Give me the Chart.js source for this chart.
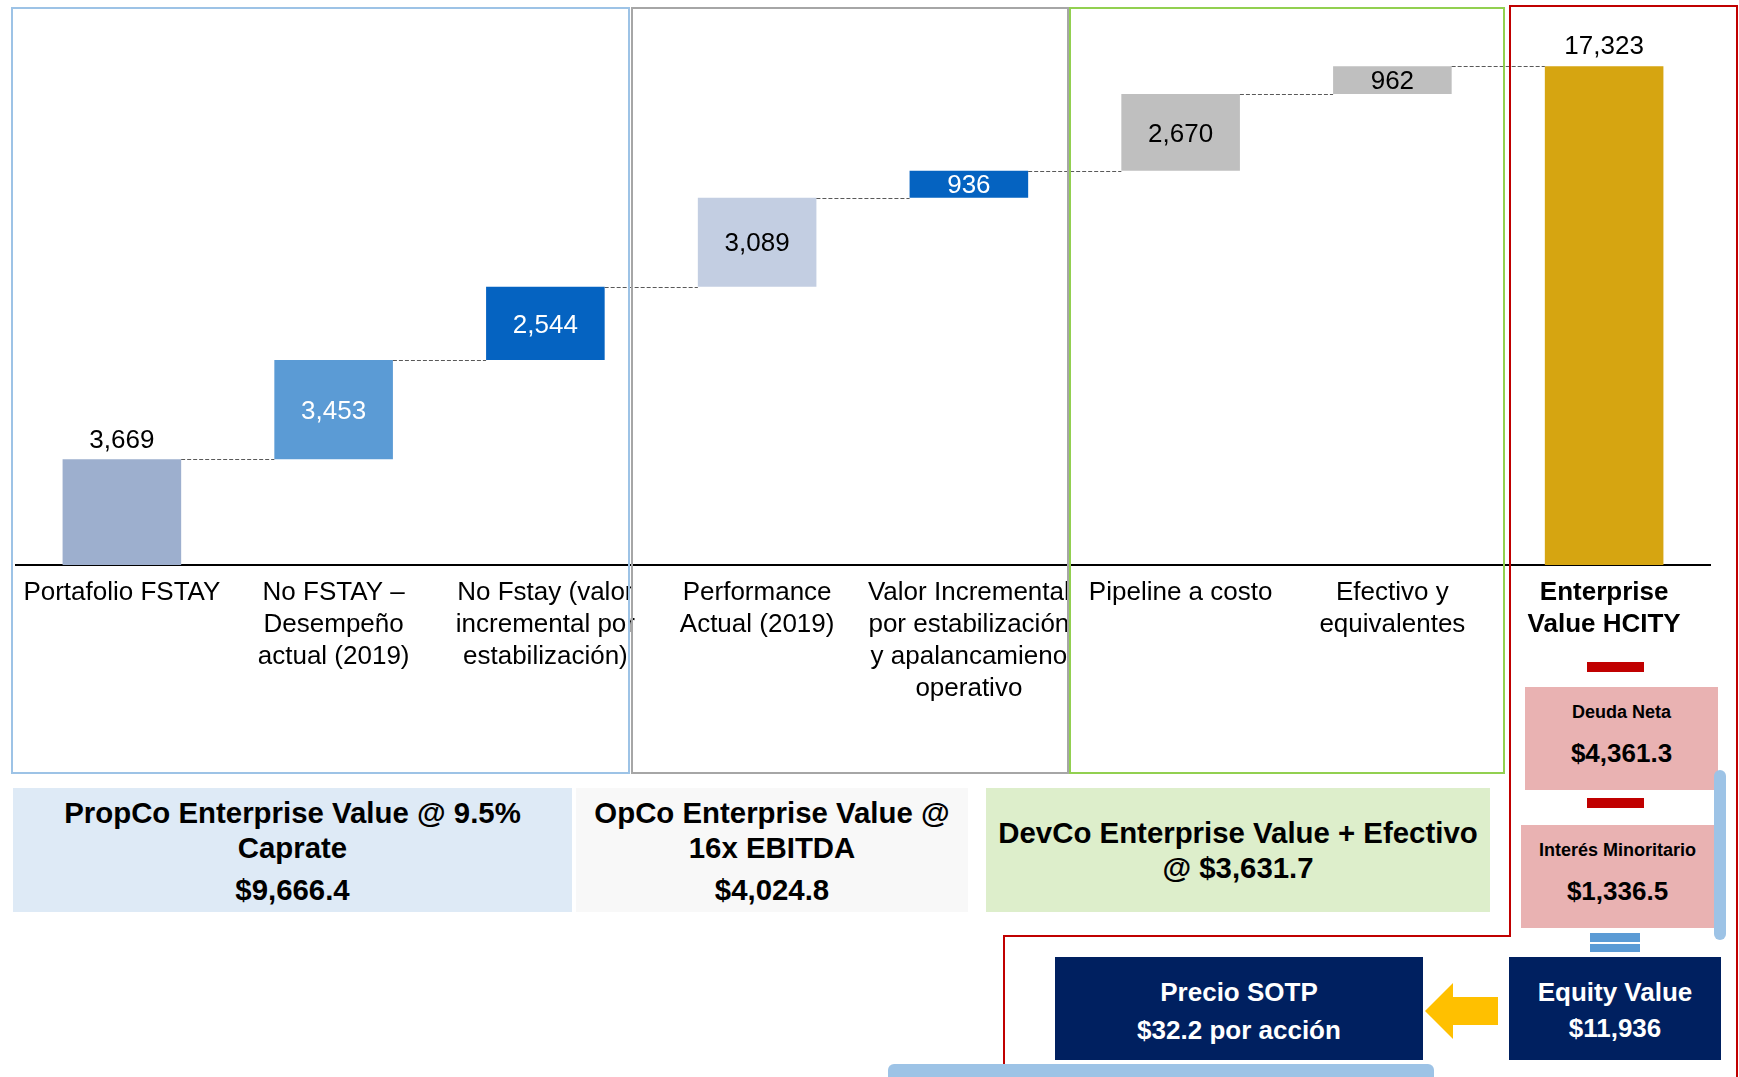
<!DOCTYPE html>
<html lang="es">
<head>
<meta charset="utf-8">
<title>SOTP HCITY</title>
<script src="https://cdn.jsdelivr.net/npm/chart.js@4.4.0/dist/chart.umd.min.js"></script>
<style>
  html, body { margin: 0; padding: 0; background: #fff; }
  body { width: 1739px; height: 1077px; overflow: hidden; position: relative;
         font-family: 'Liberation Sans', Arial, sans-serif; }
  #sotpChart { position: absolute; left: 0; top: 0; }
  #frames { position: absolute; left: 0; top: 0; }
  .panel { position: absolute; box-sizing: border-box; text-align: center;
           font-weight: bold; color: #000; }
  .big { font-size: 29.4px; line-height: 35px; padding-top: 7px; }
  .pink { background: #E9B2B2; font-size: 18px; line-height: 24px; padding-top: 13px; }
  .pink .num { font-size: 26px; line-height: 32px; margin-top: 13px; }
  .navy { background: #002060; color: #fff; font-size: 26px; line-height: 36px; padding-top: 17px; }
</style>
</head>
<body>
<canvas id="sotpChart" width="1739" height="1077"></canvas>

<div class="panel big" style="left:13px;top:788px;width:559px;height:124px;background:#DEEAF6;">
  <div>PropCo Enterprise Value @ 9.5%</div>
  <div>Caprate</div>
  <div style="margin-top:7px;">$9,666.4</div>
</div>
<div class="panel big" style="left:576px;top:788px;width:392px;height:124px;background:#F8F8F8;">
  <div>OpCo Enterprise Value @</div>
  <div>16x EBITDA</div>
  <div style="margin-top:7px;">$4,024.8</div>
</div>
<div class="panel big" style="left:986px;top:788px;width:504px;height:124px;background:#DDEECB;padding-top:27px;">
  <div>DevCo Enterprise Value + Efectivo</div>
  <div>@ $3,631.7</div>
</div>

<div class="panel pink" style="left:1525px;top:687px;width:193px;height:103px;">
  <div>Deuda Neta</div>
  <div class="num">$4,361.3</div>
</div>
<div class="panel pink" style="left:1521px;top:825px;width:193px;height:103px;">
  <div>Interés Minoritario</div>
  <div class="num">$1,336.5</div>
</div>
<div class="panel navy" style="left:1509px;top:957px;width:212px;height:103px;">
  <div>Equity Value</div>
  <div>$11,936</div>
</div>
<div class="panel navy" style="left:1055px;top:957px;width:368px;height:103px;line-height:38px;padding-top:16px;">
  <div>Precio SOTP</div>
  <div>$32.2 por acción</div>
</div>

<svg id="frames" width="1739" height="1077">
  <rect x="12" y="8" width="617" height="765" fill="none" stroke="#9DC3E6" stroke-width="2"/>
  <rect x="632" y="8" width="436" height="765" fill="none" stroke="#A6A6A6" stroke-width="2"/>
  <rect x="1070" y="8" width="434" height="765" fill="none" stroke="#92D050" stroke-width="2"/>
  <polyline points="1004,1080 1004,936 1510,936 1510,6 1737,6 1737,1080" fill="none" stroke="#C00000" stroke-width="2"/>
  <rect x="1587" y="662" width="57" height="10" fill="#C00000"/>
  <rect x="1587" y="798" width="57" height="10" fill="#C00000"/>
  <rect x="1714" y="770" width="12" height="170" rx="6" fill="#9DC3E6"/>
  <rect x="1590" y="933" width="50" height="9" fill="#5B9BD5"/>
  <rect x="1590" y="944" width="50" height="8" fill="#5B9BD5"/>
  <polygon points="1425,1011 1453,983 1453,997 1498,997 1498,1025 1453,1025 1453,1039" fill="#FFC000"/>
  <rect x="888" y="1064" width="546" height="24" rx="6" fill="#9DC3E6"/>
</svg>

<script>
// categorias del puente de valor (SOTP)
const categories = [
  'Portafolio FSTAY',
  ['No FSTAY –', 'Desempeño', 'actual (2019)'],
  ['No Fstay (valor', 'incremental por', 'estabilización)'],
  ['Performance', 'Actual (2019)'],
  ['Valor Incremental', 'por estabilización', 'y apalancamieno', 'operativo'],
  'Pipeline a costo',
  ['Efectivo y', 'equivalentes'],
  ['Enterprise', 'Value HCITY']
];
// incrementos (mdp) y total
const steps = [3669, 3453, 2544, 3089, 936, 2670, 962];
const total = 17323;

const barColors = ['#9DAFCE', '#5B9BD5', '#0563C1', '#C3CEE2', '#0563C1', '#BFBFBF', '#BFBFBF', '#D6A511'];
const labelColors = ['#000', '#fff', '#fff', '#000', '#fff', '#000', '#000', '#000'];
const labelPlace = ['above', 'inside', 'inside', 'inside', 'inside', 'inside', 'inside', 'above'];

// barras flotantes: cada paso arranca donde termina el anterior
let running = 0;
const ranges = steps.map(function (v) {
  const r = [running, running + v];
  running += v;
  return r;
});
ranges.push([0, total]);
const values = steps.concat([total]);

const fmt = new Intl.NumberFormat('en-US');

const waterfallExtras = {
  id: 'waterfallExtras',
  afterDatasetsDraw(chart) {
    const ctx = chart.ctx;
    const y = chart.scales.y;
    const bars = chart.getDatasetMeta(0).data;
    ctx.save();

    // lineas punteadas entre barras
    ctx.strokeStyle = '#595959';
    ctx.lineWidth = 1;
    ctx.setLineDash([4, 2]);
    for (let i = 0; i < bars.length - 1; i++) {
      const lvl = Math.round(y.getPixelForValue(ranges[i][1])) + 0.5;
      ctx.beginPath();
      ctx.moveTo(bars[i].x + bars[i].width / 2, lvl);
      ctx.lineTo(bars[i + 1].x - bars[i + 1].width / 2, lvl);
      ctx.stroke();
    }
    ctx.setLineDash([]);

    // etiquetas de valor
    ctx.font = "26px 'Liberation Sans', Arial, sans-serif";
    ctx.textAlign = 'center';
    ctx.textBaseline = 'middle';
    bars.forEach(function (bar, i) {
      const top = y.getPixelForValue(ranges[i][1]);
      const bottom = y.getPixelForValue(ranges[i][0]);
      const ty = labelPlace[i] === 'above' ? top - 19 : (top + bottom) / 2 + 2;
      ctx.fillStyle = labelColors[i];
      ctx.fillText(fmt.format(values[i]), bar.x, ty);
    });
    ctx.restore();
  }
};

const ctx = document.getElementById('sotpChart').getContext('2d');
Chart.defaults.font.family = "'Liberation Sans', Arial, sans-serif";

new Chart(ctx, {
  type: 'bar',
  data: {
    labels: categories,
    datasets: [{
      data: ranges,
      backgroundColor: barColors,
      borderWidth: 0,
      barPercentage: 0.56,
      categoryPercentage: 1.0
    }]
  },
  options: {
    responsive: false,
    animation: false,
    layout: { padding: { top: 18, left: 16, right: 29, bottom: 0 } },
    plugins: {
      legend: { display: false },
      tooltip: { enabled: false }
    },
    scales: {
      x: {
        grid: { drawOnChartArea: false, drawTicks: false },
        border: { display: true, color: '#000', width: 2 },
        afterFit: function (scale) { scale.height = 512; },
        ticks: {
          autoSkip: false,
          maxRotation: 0,
          minRotation: 0,
          padding: 12,
          color: '#000',
          font: function (c) {
            return { size: 26, lineHeight: 1.23, weight: c.index === 7 ? 'bold' : 'normal' };
          }
        }
      },
      y: {
        display: false,
        min: 0,
        max: 19000
      }
    }
  },
  plugins: [waterfallExtras]
});
</script>
</body>
</html>
